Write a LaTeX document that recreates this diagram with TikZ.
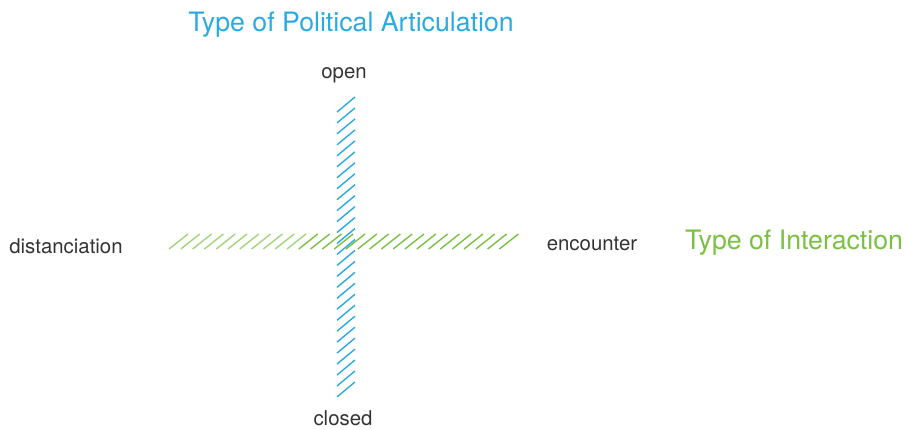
\documentclass[tikz,border=0pt]{standalone}
\usepackage{fontspec}
\setmainfont{TeX Gyre Heros}
\usetikzlibrary{positioning}
\definecolor{SkyBlue}{RGB}{41, 171, 226}
\definecolor{LeafGreen}{RGB}{122, 193, 66}
\definecolor{DarkText}{RGB}{51, 51, 51}

\begin{document}
\begin{tikzpicture}[
        x=1pt, y=-1pt,
        every node/.style={inner sep=0pt},
        pole/.style={text=DarkText, font=\fontsize{20.4}{24}\selectfont},
        axistitle/.style={font=\fontsize{26.7}{31}\selectfont},
        hatch/.style={line width=1.4pt}
    ]
    \useasboundingbox (0,0) rectangle (906,430);

    % Hatched bands
    \foreach \i in {0,...,26}
        \draw[hatch, SkyBlue] (337,112+\i*10.96) -- (355,97+\i*10.96);
    \foreach \i in {0,...,28} {
        \pgfmathsetmacro{\shade}{\i<11 ? 70 : 100}
        \draw[hatch, LeafGreen!\shade] (169+\i*11.8,249) -- (188+\i*11.8,234);
    }

    % Nodes
    \node[axistitle, text=SkyBlue] (articulation) at (351,25) {Type of Political Articulation};
    \node[pole] (open) at (344,75) {open};
    \node[pole] (closed) at (343,418) {closed};
    \node[pole] (distanciation) at (66,246) {distanciation};
    \node[pole] (encounter) at (592,244) {encounter};
    \node[axistitle, text=LeafGreen] (interaction) at (794,243) {Type of Interaction};
\end{tikzpicture}
\end{document}
